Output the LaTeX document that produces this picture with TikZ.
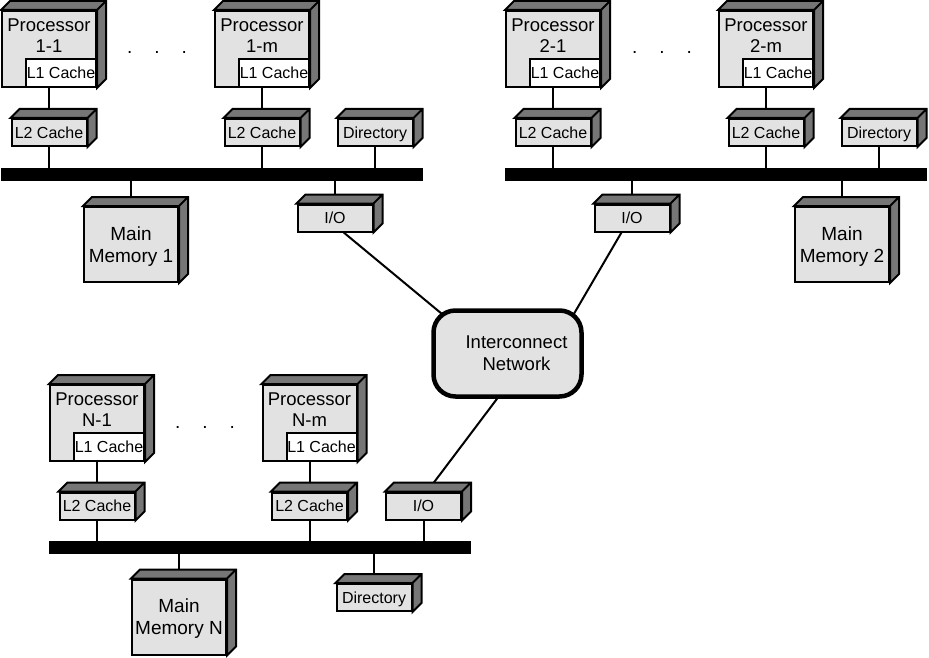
\documentclass[tikz,border=0pt]{standalone}
\usepackage{fontspec}
\setmainfont{Liberation Sans}
\usetikzlibrary{positioning,backgrounds}
\definecolor{facegray}{RGB}{226,226,226}
\definecolor{sidegray}{RGB}{118,118,118}
\newcommand{\cubedepth}{9}
\tikzset{
  box/.style={draw, line width=2pt, fill=facegray, inner sep=0pt,
    font=\fontsize{16}{18}\selectfont,
    append after command={\pgfextra{\let\cubenode\tikzlastnode
      \filldraw[line width=2pt, fill=sidegray]
        (\cubenode.north west) -- ([shift={(\cubedepth,-\cubedepth)}]\cubenode.north west)
        -- ([shift={(\cubedepth,-\cubedepth)}]\cubenode.north east)
        -- ([shift={(\cubedepth,-\cubedepth)}]\cubenode.south east)
        -- (\cubenode.south east) -- (\cubenode.north east) -- cycle
        (\cubenode.north east) -- ([shift={(\cubedepth,-\cubedepth)}]\cubenode.north east);
    }}},
  proc/.style={box, minimum width=94pt, minimum height=76pt},
  lonecache/.style={draw, line width=2pt, fill=white, inner sep=0pt, anchor=south east,
    minimum width=70pt, minimum height=28pt, font=\fontsize{16}{18}\selectfont},
  ptext/.style={align=center, inner sep=0pt, font=\fontsize{18.5}{21}\selectfont},
  unit/.style={box, minimum width=75pt, minimum height=27pt, text depth=0pt},
  mem/.style={box, minimum width=94pt, minimum height=75pt, align=center,
    text depth=0pt, font=\fontsize{19}{22}\selectfont},
  bus/.style={fill=black, inner sep=0pt, minimum width=422pt, minimum height=13pt},
  dots/.style={inner sep=0pt, font=\fontsize{19}{21}\selectfont},
  link/.style={line width=2pt}
}
\begin{document}
\begin{tikzpicture}[x=1pt,y=-1pt]
    \useasboundingbox (0,0) rectangle (929,658);

    % group 1
    \node[proc] (p11) at (49,49) {};
    \node[lonecache] (c11) at (p11.south east) {L1 Cache};
    \node[ptext, below=9pt of p11.north] (t11) {Processor\\1-1};
    \node[proc] (p1m) at (262,49) {};
    \node[lonecache] (c1m) at (p1m.south east) {L1 Cache};
    \node[ptext, below=9pt of p1m.north] (t1m) {Processor\\1-m};
    \node[dots] (d1) at (157,52) {.\hspace{22pt}.\hspace{22pt}.};
    \node[unit] (l11) at (49,132.5) {L2 Cache};
    \node[unit] (l1m) at (262,132.5) {L2 Cache};
    \node[unit] (dir1) at (375,132.5) {Directory};
    \node[bus] (bus1) at (211.5,174) {};
    \node[unit] (io1) at (335,218) {I/O};
    \node[mem] (mem1) at (131,244.5) {Main\\Memory 1};

    % group 2
    \node[proc] (p21) at (553,49) {};
    \node[lonecache] (c21) at (p21.south east) {L1 Cache};
    \node[ptext, below=9pt of p21.north] (t21) {Processor\\2-1};
    \node[proc] (p2m) at (766,49) {};
    \node[lonecache] (c2m) at (p2m.south east) {L1 Cache};
    \node[ptext, below=9pt of p2m.north] (t2m) {Processor\\2-m};
    \node[dots] (d2) at (662,52) {.\hspace{22pt}.\hspace{22pt}.};
    \node[unit] (l21) at (553,132.5) {L2 Cache};
    \node[unit] (l2m) at (766,132.5) {L2 Cache};
    \node[unit] (dir2) at (879,132.5) {Directory};
    \node[bus] (bus2) at (716,174) {};
    \node[unit] (io2) at (632,218) {I/O};
    \node[mem] (mem2) at (842,244.5) {Main\\Memory 2};

    % group N
    \node[proc] (pn1) at (97,423) {};
    \node[lonecache] (cn1) at (pn1.south east) {L1 Cache};
    \node[ptext, below=9pt of pn1.north] (tn1) {Processor\\N-1};
    \node[proc] (pnm) at (309.5,423) {};
    \node[lonecache] (cnm) at (pnm.south east) {L1 Cache};
    \node[ptext, below=9pt of pnm.north] (tnm) {Processor\\N-m};
    \node[dots] (dn) at (205,427) {.\hspace{22pt}.\hspace{22pt}.};
    \node[unit] (ln1) at (97,506) {L2 Cache};
    \node[unit] (lnm) at (309.5,506) {L2 Cache};
    \node[unit] (ion) at (423.5,506) {I/O};
    \node[bus] (busn) at (260,547.5) {};
    \node[mem] (memn) at (179,617) {Main\\Memory N};
    \node[unit] (dirn) at (374,597.5) {Directory};

    \node[draw, line width=4.5pt, rounded corners=22pt, fill=facegray,
      minimum width=148pt, minimum height=86pt,
      label={[align=center, xshift=9pt, font=\fontsize{18.5}{22}\selectfont]center:Interconnect\\Network}]
      (net) at (507.5,353.5) {};

    \begin{pgfonlayer}{background}
        \draw[link] (p11) -- (l11) -- (l11 |- bus1);
        \draw[link] (p1m) -- (l1m) -- (l1m |- bus1);
        \draw[link] (dir1) -- (dir1 |- bus1);
        \draw[link] (io1) -- (io1 |- bus1);
        \draw[link] (mem1) -- (mem1 |- bus1);
        \draw[link] (p21) -- (l21) -- (l21 |- bus2);
        \draw[link] (p2m) -- (l2m) -- (l2m |- bus2);
        \draw[link] (dir2) -- (dir2 |- bus2);
        \draw[link] (io2) -- (io2 |- bus2);
        \draw[link] (mem2) -- (mem2 |- bus2);
        \draw[link] (pn1) -- (ln1) -- (ln1 |- busn);
        \draw[link] (pnm) -- (lnm) -- (lnm |- busn);
        \draw[link] (ion) -- (ion |- busn);
        \draw[link] (memn) -- (memn |- busn);
        \draw[link] (dirn) -- (dirn |- busn);
        \draw[link, shorten >=-8pt] (io1.-59) -- (net.148);
        \draw[link, shorten >=-8pt] (io2.-126) -- (net.33);
        \draw[link, shorten >=-8pt] (ion.76) -- (net.-103);
    \end{pgfonlayer}
\end{tikzpicture}
\end{document}
